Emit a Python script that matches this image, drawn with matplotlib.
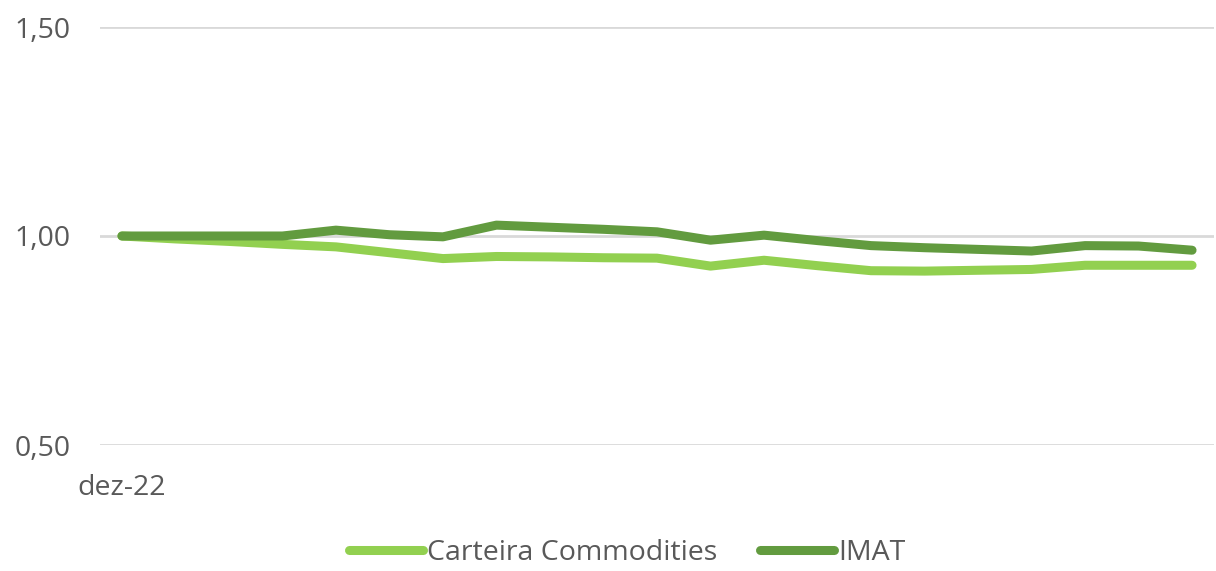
import numpy as np
import matplotlib
matplotlib.use("Agg")
import matplotlib.pyplot as plt

plt.rcParams['font.family'] = ['Open Sans', 'DejaVu Sans']

months = ['dez-22', 'jan-23', 'fev-23', 'mar-23', 'abr-23', 'mai-23', 'jun-23',
          'jul-23', 'ago-23', 'set-23', 'out-23', 'nov-23', 'dez-23', 'jan-24',
          'fev-24', 'mar-24', 'abr-24', 'mai-24', 'jun-24', 'jul-24', 'ago-24']
carteira = [1.000, 0.993, 0.987, 0.980, 0.974, 0.960, 0.946, 0.951, 0.950, 0.948, 0.947,
            0.928, 0.942, 0.929, 0.917, 0.916, 0.918, 0.920, 0.930, 0.930, 0.930]
imat = [1.000, 1.000, 1.000, 1.000, 1.014, 1.003, 0.998, 1.026, 1.021, 1.016, 1.010,
        0.990, 1.002, 0.989, 0.977, 0.972, 0.968, 0.964, 0.977, 0.976, 0.966]
yticks = [0.50, 1.00, 1.50]

light = '#92D050'
dark = '#629B3F'
txt = '#595959'

fig = plt.figure(figsize=(12.16, 5.71), dpi=100)
ax = fig.add_axes([100/1216, 1-445/571, 1114/1216, 418/571])

x = np.arange(len(months))
ax.plot(x, carteira, color=light, lw=6.5, solid_capstyle='round', solid_joinstyle='round',
        label='Carteira Commodities', zorder=3)
ax.plot(x, imat, color=dark, lw=6.5, solid_capstyle='round', solid_joinstyle='round',
        label='IMAT', zorder=3)

ax.set_xlim(-0.41, len(months) - 1 + 0.41)
ax.set_ylim(0.5, 1.5)
ax.set_yticks(yticks)
ax.set_yticklabels([f'{v:.2f}'.replace('.', ',') for v in yticks])
ax.set_xticks([0])
ax.set_xticklabels([months[0]])
ax.grid(axis='y', color='#D9D9D9', lw=2)
ax.set_axisbelow(True)
for s in ax.spines.values():
    s.set_visible(False)
ax.tick_params(axis='y', length=0, pad=21, labelsize=20.5, labelcolor=txt)
ax.tick_params(axis='x', length=0, pad=21, labelsize=20.5, labelcolor=txt)

fig.legend(loc='center', bbox_to_anchor=(627/1216, 1-553/571), ncol=2, frameon=False,
           fontsize=20.5, labelcolor=txt, handlelength=2.6, handletextpad=0.15,
           columnspacing=1.5, borderpad=0.2)

fig.savefig('out.png', dpi=100)
